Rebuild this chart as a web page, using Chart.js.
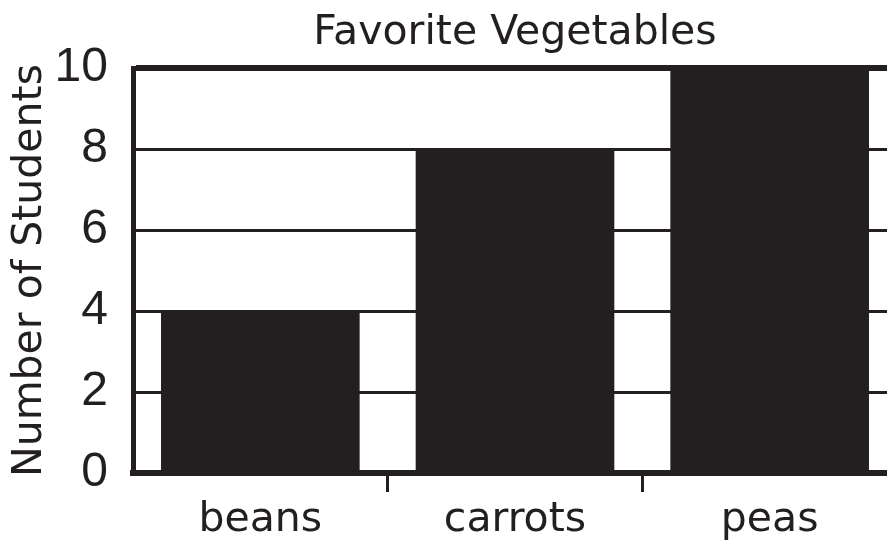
<!DOCTYPE html>
<html>
<head>
<meta charset="utf-8">
<script src="https://cdn.jsdelivr.net/npm/chart.js@4"></script>
<style>
  html, body { margin: 0; padding: 0; background: #fff; overflow: hidden; }
  #wrap { width: 900px; height: 544px; }
</style>
</head>
<body>
<div id="wrap"><canvas id="chart"></canvas></div>
<script>
var chartTitle = "Favorite Vegetables",
  yAxisTitle = "Number of Students",
  vegetables = ["beans", "carrots", "peas"],
  studentCounts = [4, 8, 10],
  yTicks = [0, 2, 4, 6, 8, 10];

var ink = "#231f20",
  fontFamily = "'DejaVu Sans', sans-serif",
  numberFont = "'Liberation Sans', sans-serif";

// title centred over the plot area rather than the whole canvas
const plotTitle = {
  id: "plotTitle",
  afterDraw(chart) {
    const { ctx, chartArea } = chart;
    ctx.save();
    ctx.font = "41px " + fontFamily;
    ctx.fillStyle = ink;
    ctx.textAlign = "center";
    ctx.textBaseline = "alphabetic";
    ctx.fillText(chartTitle, (chartArea.left + chartArea.right) / 2, 44);
    ctx.restore();
  },
};

new Chart(document.getElementById("chart"), {
  type: "bar",
  data: {
    labels: vegetables,
    datasets: [
      {
        label: yAxisTitle,
        data: studentCounts,
        backgroundColor: ink,
        borderWidth: 0,
        barPercentage: 0.78,
        categoryPercentage: 1,
      },
    ],
  },
  options: {
    responsive: true,
    maintainAspectRatio: false,
    animation: false,
    layout: { padding: { top: 68, right: 3, left: 0, bottom: 0 } },
    plugins: {
      legend: { display: false },
      title: { display: false },
      tooltip: { enabled: false },
    },
    scales: {
      x: {
        afterFit: (scale) => {
          scale.height = 71;
        },
        offset: true,
        grid: {
          offset: true,
          drawOnChartArea: false,
          drawTicks: true,
          tickLength: 19,
          tickWidth: 3,
          tickColor: (ctx) =>
            ctx.index === 0 || ctx.index === undefined ? "rgba(0,0,0,0)" : ink,
        },
        border: { display: true, width: 6, color: ink, z: 1 },
        ticks: {
          color: ink,
          padding: 4,
          font: { family: fontFamily, size: 41 },
        },
      },
      y: {
        min: 0,
        max: 10,
        afterFit: (scale) => {
          scale.width = 133;
        },
        afterBuildTicks: (scale) => {
          scale.ticks = yTicks.map((v) => ({ value: v }));
        },
        grid: {
          drawTicks: false,
          color: ink,
          lineWidth: (ctx) =>
            ctx.tick && ctx.tick.value === 10 ? 6 : ctx.tick && ctx.tick.value === 0 ? 0 : 3,
        },
        border: { display: true, width: 5, color: ink, z: 1 },
        ticks: {
          color: ink,
          padding: 25,
          font: { family: numberFont, size: 48 },
        },
        title: {
          display: true,
          text: yAxisTitle,
          color: ink,
          padding: { top: 6, bottom: 0 },
          font: { family: fontFamily, size: 41 },
        },
      },
    },
  },
  plugins: [plotTitle],
});
</script>
</body>
</html>
